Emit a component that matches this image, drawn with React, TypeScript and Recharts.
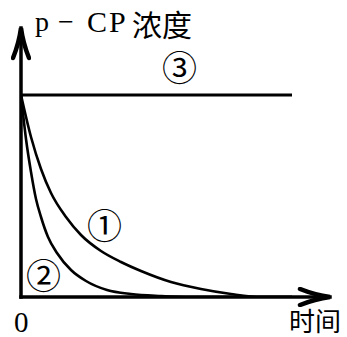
import { LineChart, Line, XAxis, YAxis, ReferenceLine } from 'recharts'

// time axis runs 0..309, concentration 0..269 (schematic units)
const timeDomain = [0, 309]
const concDomain = [0, 269]

// curve ① (slower decay)
const timeOne = [0, 10, 20, 30, 45, 60, 80, 100, 120, 150, 180, 210, 240, 271]
const concOne = [202, 160, 128, 104, 80, 62, 46, 35, 26, 15, 8, 3, 0, 0]

// curve ② (faster decay)
const timeTwo = [0, 5, 10, 15, 20, 27, 36, 50, 65, 86, 110, 140, 170, 271]
const concTwo = [202, 158, 125, 98, 80, 60, 44, 27, 16, 7, 3, 1, 0, 0]

// curve ③ (constant)
const timeThree = [0, 271]
const concThree = [202, 202]

const toPoints = (ts: number[], cs: number[]) => ts.map((t, i) => ({ t, c: cs[i] }))

const serif = '"Liberation Serif", "DejaVu Serif", serif'
const cjk = '"Noto Sans CJK SC", sans-serif'

const label = (left: number, top: number, size: number, family: string, text: string, extra = {}) => (
  <div
    style={{
      position: 'absolute', left, top, fontSize: size, fontFamily: family,
      lineHeight: 1, whiteSpace: 'nowrap', color: '#000', ...extra,
    }}
  >
    {text}
  </div>
)

const axisStyle = { stroke: '#000', strokeWidth: 3.5, markerEnd: 'url(#arrowHead)' }

export default function App() {
  return (
    <div style={{ position: 'absolute', left: 0, top: 0, width: 347, height: 337, background: '#fff', overflow: 'hidden' }}>
      <svg width={0} height={0} style={{ position: 'absolute' }}>
        <defs>
          <marker
            id="arrowHead" markerUnits="userSpaceOnUse" viewBox="0 0 36 20"
            markerWidth={36} markerHeight={20} refX={33} refY={10} orient="auto"
          >
            <path d="M3,2 Q18,8 33,10 Q18,12 3,18" stroke="#000" strokeWidth={4.5} fill="none" strokeLinecap="round" />
          </marker>
        </defs>
      </svg>
      <LineChart width={347} height={337} margin={{ top: 28, right: 17, bottom: 40, left: 21 }}>
        <XAxis type="number" dataKey="t" domain={timeDomain} hide allowDataOverflow />
        <YAxis type="number" dataKey="c" domain={concDomain} hide allowDataOverflow />
        <ReferenceLine segment={[{ x: 0, y: 0 }, { x: 309, y: 0 }]} ifOverflow="visible" {...axisStyle} strokeLinecap="square" />
        <ReferenceLine segment={[{ x: 0, y: 0 }, { x: 0, y: 269 }]} ifOverflow="visible" {...axisStyle} strokeLinecap="square" />
        <Line data={toPoints(timeThree, concThree)} dataKey="c" type="linear" stroke="#000" strokeWidth={3} dot={false} isAnimationActive={false} />
        <Line data={toPoints(timeOne, concOne)} dataKey="c" type="monotone" stroke="#000" strokeWidth={2.6} dot={false} isAnimationActive={false} />
        <Line data={toPoints(timeTwo, concTwo)} dataKey="c" type="monotone" stroke="#000" strokeWidth={2.6} dot={false} isAnimationActive={false} />
      </LineChart>
      {/* y label: p − CP浓度 */}
      {label(35, 8, 28, serif, 'p')}
      {label(58, 8, 28, serif, '−')}
      {label(87, 7, 30, serif, 'CP', { letterSpacing: 2 })}
      {label(132, 8, 30, cjk, '浓度')}
      {label(162, 48, 35, cjk, '③')}
      {label(87, 206, 35, cjk, '①')}
      {label(26, 256, 35, cjk, '②')}
      {label(14, 308, 29, serif, '0')}
      {label(289, 307, 26, cjk, '时间')}
    </div>
  )
}
